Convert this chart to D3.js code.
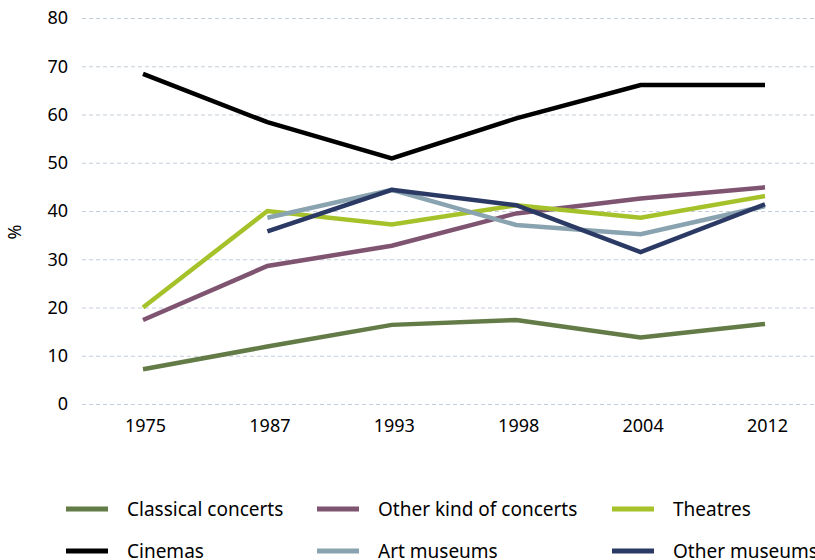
<!DOCTYPE html>
<html>
<head>
<meta charset="utf-8">
<script src="https://cdn.jsdelivr.net/npm/d3@7"></script>
<style>
  body { margin: 0; background: #fff; }
  svg text { font-family: 'Noto Sans', sans-serif; fill: #000; }
</style>
</head>
<body>
<div id="chart"></div>
<script>
// Survey years (categories)
var years = ['1975', '1987', '1993', '1998', '2004', '2012']

// Series names, in legend order
var seriesNames = ['Classical concerts', 'Other kind of concerts', 'Theatres',
  'Cinemas', 'Art museums', 'Other museums']

var seriesColors = ['#637b46', '#7f5471', '#a5c22b', '#000000', '#8aa3b0', '#2b3a64']

// Values in %, null = no data
var classicalConcerts = [7.2, 11.9, 16.4, 17.4, 13.8, 16.6]
var otherConcerts = [17.4, 28.6, 32.8, 39.5, 42.6, 44.9]
var theatres = [20.0, 40.0, 37.2, 41.2, 38.6, 43.1]
var cinemas = [68.4, 58.4, 50.9, 59.2, 66.1, 66.1]
var artMuseums = [null, 38.6, 44.4, 37.1, 35.2, 41.0]
var otherMuseums = [null, 35.8, 44.4, 41.2, 31.5, 41.4]

var yTicks = [0, 10, 20, 30, 40, 50, 60, 70, 80]

var seriesValues = [classicalConcerts, otherConcerts, theatres, cinemas, artMuseums, otherMuseums]

var width = 815
var height = 560
var margin = { top: 18, left: 82, bottom: 404 }

var svg = d3.select('#chart').append('svg')
  .attr('width', width)
  .attr('height', height)

// X scale, plot runs past the right edge of the picture
var x = d3.scalePoint()
  .domain(years)
  .range([143, 765])

var y = d3.scaleLinear()
  .domain([0, 80])
  .range([margin.bottom, margin.top])

// Gridlines
svg.append('g')
  .selectAll('line')
  .data(yTicks)
  .enter().append('line')
  .attr('x1', margin.left)
  .attr('x2', width)
  .attr('y1', function (d) { return y(d) + 0.5 })
  .attr('y2', function (d) { return y(d) + 0.5 })
  .style('stroke', '#c3cfdb')
  .style('stroke-width', '1px')
  .style('stroke-dasharray', '4,3')

// Y axis tick labels
var yAxis = d3.axisLeft(y).tickValues(yTicks).tickSize(0).tickPadding(0)
svg.append('g')
  .attr('transform', 'translate(68,0)')
  .call(yAxis)
  .call(function (g) { g.select('.domain').remove() })
  .selectAll('text')
  .style('font-size', '18px')
  .style('font-family', "'Noto Sans', sans-serif")
  .attr('fill', '#000')

// X axis tick labels
var xAxis = d3.axisBottom(x).tickSize(0).tickPadding(0)
svg.append('g')
  .attr('transform', 'translate(2,' + 419 + ')')
  .call(xAxis)
  .call(function (g) { g.select('.domain').remove() })
  .selectAll('text')
  .style('font-size', '18px')
  .style('font-family', "'Noto Sans', sans-serif")
  .attr('fill', '#000')

// Y axis title
svg.append('text')
  .attr('transform', 'translate(21,232) rotate(-90)')
  .attr('text-anchor', 'middle')
  .style('font-size', '18px')
  .text('%')

// Lines
var line = d3.line()
  .defined(function (d) { return d !== null })
  .x(function (d, i) { return x(years[i]) })
  .y(function (d) { return y(d) })

svg.append('g')
  .selectAll('path')
  .data(seriesValues)
  .enter().append('path')
  .attr('d', line)
  .style('fill', 'none')
  .style('stroke', function (d, i) { return seriesColors[i] })
  .style('stroke-width', '4.5px')
  .style('stroke-linejoin', 'miter')

// Legend, 3 columns x 2 rows
var legendCols = [66, 317, 612]
var legendRows = [509, 551]

var legendItem = svg.append('g')
  .selectAll('g')
  .data(seriesNames)
  .enter().append('g')
  .attr('transform', function (d, i) {
    return 'translate(' + legendCols[i % 3] + ',' + legendRows[Math.floor(i / 3)] + ')'
  })

legendItem.append('line')
  .attr('x1', 0)
  .attr('x2', 42)
  .style('stroke', function (d, i) { return seriesColors[i] })
  .style('stroke-width', '5px')

legendItem.append('text')
  .attr('x', 61)
  .attr('dy', '0.35em')
  .style('font-size', '19px')
  .text(function (d) { return d })
</script>
</body>
</html>
